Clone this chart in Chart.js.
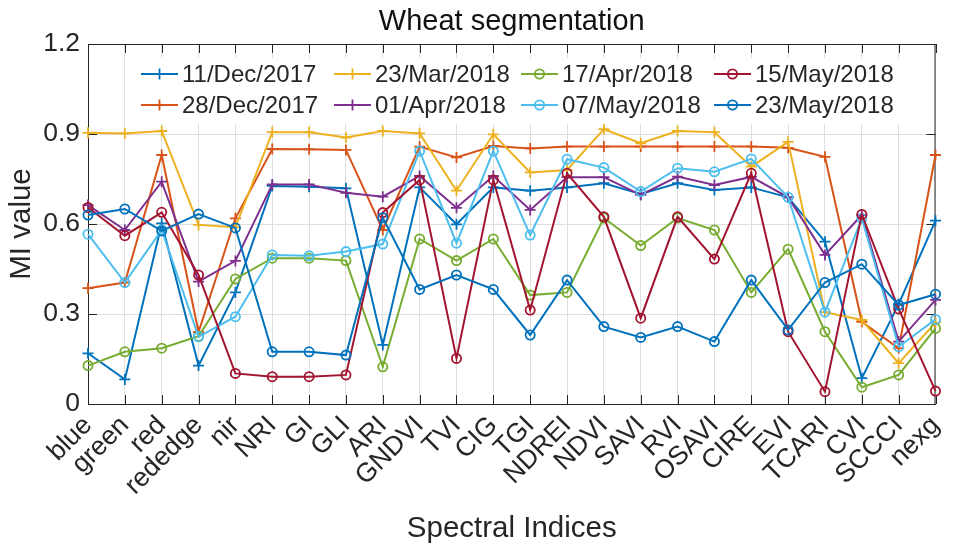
<!DOCTYPE html>
<html><head><meta charset="utf-8">
<script src="https://cdn.jsdelivr.net/npm/chart.js@4.4.1/dist/chart.umd.min.js"></script>
<style>html,body{margin:0;padding:0;background:#fff}#wrap{width:964px;height:550px}</style>
</head><body><div id="wrap"><canvas id="c" width="964" height="550"></canvas></div>
<script>
const categories = ['blue','green','red','rededge','nir','NRI','GI','GLI','ARI','GNDVI','TVI','CIG','TGI','NDREI','NDVI','SAVI','RVI','OSAVI','CIRE','EVI','TCARI','CVI','SCCCI','nexg'];
const seriesNames = ['11/Dec/2017','28/Dec/2017','23/Mar/2018','01/Apr/2018','17/Apr/2018','07/May/2018','15/May/2018','23/May/2018'];
const dec11 = [0.169,0.082,0.602,0.128,0.372,0.727,0.724,0.719,0.197,0.722,0.599,0.722,0.711,0.722,0.736,0.700,0.736,0.713,0.722,0.689,0.541,0.086,0.333,0.611];
const dec28 = [0.386,0.405,0.830,0.240,0.619,0.850,0.849,0.847,0.580,0.858,0.822,0.860,0.852,0.858,0.858,0.858,0.858,0.858,0.858,0.854,0.824,0.274,0.186,0.830];
const mar23 = [0.904,0.902,0.910,0.597,0.589,0.906,0.906,0.888,0.910,0.902,0.711,0.899,0.772,0.780,0.916,0.869,0.910,0.906,0.791,0.874,0.306,0.280,0.136,0.271];
const apr01 = [0.663,0.580,0.741,0.408,0.477,0.732,0.732,0.704,0.691,0.760,0.654,0.760,0.647,0.756,0.756,0.697,0.758,0.730,0.757,0.689,0.497,0.630,0.208,0.347];
const apr17 = [0.128,0.174,0.186,0.226,0.417,0.486,0.486,0.478,0.124,0.550,0.478,0.550,0.363,0.372,0.620,0.528,0.620,0.580,0.372,0.516,0.241,0.056,0.097,0.252];
const may07 = [0.566,0.405,0.580,0.224,0.291,0.497,0.494,0.508,0.533,0.843,0.536,0.843,0.563,0.816,0.788,0.708,0.786,0.774,0.817,0.689,0.306,0.619,0.191,0.282];
const may15 = [0.655,0.561,0.639,0.430,0.102,0.091,0.091,0.097,0.638,0.747,0.152,0.747,0.313,0.769,0.624,0.286,0.624,0.483,0.769,0.241,0.041,0.632,0.317,0.043];
const may23 = [0.630,0.650,0.577,0.633,0.587,0.174,0.174,0.163,0.621,0.382,0.430,0.382,0.230,0.413,0.258,0.222,0.258,0.208,0.413,0.247,0.405,0.466,0.330,0.366];
const seriesValues = [dec11, dec28, mar23, apr01, apr17, may07, may15, may23];
const seriesColors = ['#0072BD','#D95319','#EDB120','#7E2F8E','#77AC30','#4DBEEE','#A2142F','#0072BD'];
const seriesMarkers = ['cross','cross','cross','cross','circle','circle','circle','circle'];
const yTicks = [0, 0.3, 0.6, 0.9, 1.2];
const titleText = 'Wheat segmentation';
const xLabel = 'Spectral Indices';
const yLabel = 'MI value';

const FONT = '"Liberation Sans", Arial, Helvetica, sans-serif';
const AX = '#262626';

const datasets = seriesNames.map((name, i) => ({
  label: name,
  data: seriesValues[i],
  borderColor: seriesColors[i],
  backgroundColor: seriesColors[i],
  pointBorderColor: seriesColors[i],
  pointBackgroundColor: 'rgba(0,0,0,0)',
  pointStyle: seriesMarkers[i],
  pointRadius: seriesMarkers[i] === 'cross' ? 5.5 : 4.6,
  pointBorderWidth: 1.8,
  borderWidth: 2,
  tension: 0,
  fill: false,
  order: seriesNames.length - i
}));

function drawMarker(ctx, style, x, y, color) {
  ctx.save();
  ctx.strokeStyle = color; ctx.lineWidth = 1.8;
  ctx.beginPath();
  if (style === 'cross') {
    ctx.moveTo(x - 5.5, y); ctx.lineTo(x + 5.5, y);
    ctx.moveTo(x, y - 5.5); ctx.lineTo(x, y + 5.5);
  } else {
    ctx.arc(x, y, 4.6, 0, Math.PI * 2);
  }
  ctx.stroke();
  ctx.restore();
}

const decorPlugin = {
  id: 'decor',
  beforeDatasetsDraw(chart) {
    const ctx = chart.ctx, a = chart.chartArea;
    const xs = chart.scales.x, ys = chart.scales.y;
    ctx.save();
    ctx.strokeStyle = AX; ctx.lineWidth = 1;
    ctx.beginPath();
    ctx.moveTo(a.left, a.top + 0.5); ctx.lineTo(a.right, a.top + 0.5);
    ctx.moveTo(a.right - 0.5, a.top); ctx.lineTo(a.right - 0.5, a.bottom);
    const tl = 9;
    for (let i = 0; i < categories.length; i++) {
      const px = Math.round(xs.getPixelForValue(i)) + 0.5;
      ctx.moveTo(px, a.bottom); ctx.lineTo(px, a.bottom - tl);
      ctx.moveTo(px, a.top); ctx.lineTo(px, a.top + tl);
    }
    yTicks.forEach(v => {
      const py = Math.round(ys.getPixelForValue(v)) + 0.5;
      ctx.moveTo(a.left, py); ctx.lineTo(a.left + tl, py);
      ctx.moveTo(a.right, py); ctx.lineTo(a.right - tl, py);
    });
    ctx.stroke();
    ctx.restore();
  },
  afterDraw(chart) {
    const ctx = chart.ctx, a = chart.chartArea;
    ctx.save();
    // title
    ctx.fillStyle = '#111';
    ctx.font = '29px ' + FONT;
    ctx.textAlign = 'center'; ctx.textBaseline = 'middle';
    ctx.fillText(titleText, (a.left + a.right) / 2, 22);
    // axis labels
    ctx.fillStyle = AX;
    ctx.font = '29.5px ' + FONT;
    ctx.fillText(xLabel, (a.left + a.right) / 2, 529);
    ctx.save();
    ctx.translate(22, (a.top + a.bottom) / 2);
    ctx.rotate(-Math.PI / 2);
    ctx.fillText(yLabel, 0, 0);
    ctx.restore();
    // legend
    ctx.fillStyle = '#fff';
    ctx.fillRect(126, 58, 780, 66);
    const colLine = [141, 334, 521, 714];
    const rowY = [74, 105];
    ctx.font = '24px ' + FONT;
    ctx.textAlign = 'left'; ctx.textBaseline = 'middle';
    seriesNames.forEach((name, i) => {
      const col = Math.floor(i / 2), row = i % 2;
      const x0 = colLine[col], y = rowY[row];
      ctx.strokeStyle = seriesColors[i]; ctx.lineWidth = 2;
      ctx.beginPath(); ctx.moveTo(x0, y); ctx.lineTo(x0 + 37, y); ctx.stroke();
      drawMarker(ctx, seriesMarkers[i], x0 + 18.5, y, seriesColors[i]);
      ctx.fillStyle = AX;
      ctx.fillText(name, x0 + 41, y + 1);
    });
    ctx.restore();
  }
};

new Chart(document.getElementById('c'), {
  type: 'line',
  data: { labels: categories, datasets },
  options: {
    responsive: false,
    devicePixelRatio: 1,
    animation: false,
    layout: { padding: { top: 44, right: 20, left: 0, bottom: 0 } },
    plugins: { legend: { display: false }, title: { display: false }, tooltip: { enabled: false } },
    scales: {
      x: {
        type: 'category',
        offset: false,
        grid: { color: '#dfdfdf', lineWidth: 1, drawTicks: false },
        border: { display: true, color: AX, width: 1 },
        ticks: {
          autoSkip: false, maxRotation: 45, minRotation: 45, padding: 6,
          color: AX, font: { family: FONT, size: 26.5 }
        },
        afterFit(s) { s.height = 146; }
      },
      y: {
        min: 0, max: 1.2,
        grid: { color: '#dfdfdf', lineWidth: 1, drawTicks: false },
        border: { display: true, color: AX, width: 1 },
        ticks: {
          padding: 8, color: AX, font: { family: FONT, size: 26.5 },
          callback: v => (v === 0 ? '0' : Number(v).toFixed(1))
        },
        afterBuildTicks(s) { s.ticks = yTicks.map(v => ({ value: v })); },
        afterFit(s) { s.width = 88; }
      }
    }
  },
  plugins: [decorPlugin]
});
</script>
</body></html>
